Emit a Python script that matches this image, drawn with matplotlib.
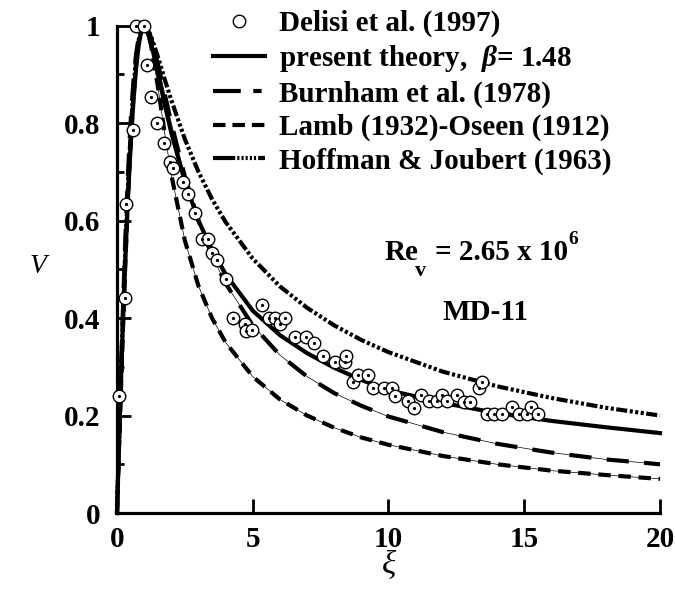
import matplotlib
matplotlib.use("Agg")
import matplotlib.pyplot as plt
from matplotlib.lines import Line2D

plt.rcParams["font.family"] = ["Liberation Serif", "DejaVu Serif"]
plt.rcParams["font.weight"] = "bold"
plt.rcParams["mathtext.fontset"] = "custom"
plt.rcParams["mathtext.rm"] = "Liberation Serif:bold"
plt.rcParams["mathtext.it"] = "Liberation Serif:italic:bold"
plt.rcParams["lines.scale_dashes"] = False

# measured tangential velocity (Delisi et al. 1997, MD-11)
DELISI_XI = [0.07, 0.31, 0.33, 0.58, 0.70, 0.99, 1.10, 1.25, 1.47, 1.73, 1.94, 2.07,
             2.42, 2.63, 2.87, 3.12, 3.36, 3.49, 3.67, 4.01, 4.29, 4.71, 4.74, 4.98,
             5.33, 5.59, 5.82, 6.00, 6.20, 6.56, 6.96, 7.27, 7.58, 8.03, 8.41, 8.43,
             8.68, 8.86, 9.26, 9.42, 9.83, 10.12, 10.25, 10.71, 10.94, 11.21, 11.48,
             11.80, 11.99, 12.15, 12.51, 12.79, 13.00, 13.33, 13.46, 13.62, 13.89,
             14.17, 14.54, 14.82, 15.09, 15.24, 15.52]
DELISI_V = [0.241, 0.442, 0.634, 0.786, 1.000, 1.000, 0.918, 0.854, 0.800, 0.760, 0.721,
            0.707, 0.680, 0.654, 0.615, 0.562, 0.562, 0.534, 0.520, 0.481, 0.401, 0.388,
            0.374, 0.375, 0.427, 0.401, 0.401, 0.388, 0.401, 0.362, 0.362, 0.348, 0.322,
            0.310, 0.310, 0.323, 0.269, 0.283, 0.283, 0.256, 0.256, 0.256, 0.241, 0.229,
            0.216, 0.242, 0.229, 0.229, 0.243, 0.229, 0.242, 0.228, 0.228, 0.257, 0.269,
            0.203, 0.203, 0.203, 0.217, 0.203, 0.203, 0.217, 0.203]

# model profiles on a common xi grid
XI_GRID = [0.0, 0.1, 0.2, 0.3, 0.4, 0.5, 0.6, 0.7, 0.8, 0.9, 1.0, 1.1, 1.25, 1.5, 1.75,
           2.0, 2.5, 3.0, 3.5, 4.0, 5.0, 6.0, 7.0, 8.0, 9.0, 10.0, 12.0, 14.0, 16.0,
           18.0, 20.0]
PRESENT_V = [0.0, 0.19, 0.36, 0.51, 0.64, 0.75, 0.84, 0.91, 0.96, 0.99, 1.0, 0.99,
             0.965, 0.905, 0.84, 0.78, 0.68, 0.60, 0.54, 0.49, 0.415, 0.365, 0.328,
             0.298, 0.273, 0.252, 0.226, 0.205, 0.189, 0.176, 0.164]
BURNHAM_V = [0.0, 0.198, 0.385, 0.55, 0.69, 0.80, 0.882, 0.94, 0.976, 0.994, 1.0, 0.995,
             0.976, 0.923, 0.862, 0.80, 0.69, 0.60, 0.528, 0.471, 0.385, 0.324, 0.28,
             0.246, 0.22, 0.198, 0.166, 0.142, 0.124, 0.11, 0.10]
LAMB_V = [0.0, 0.175, 0.344, 0.50, 0.64, 0.754, 0.848, 0.92, 0.967, 0.993, 1.0, 0.993,
          0.961, 0.877, 0.782, 0.694, 0.559, 0.466, 0.40, 0.35, 0.28, 0.233, 0.20,
          0.175, 0.155, 0.14, 0.117, 0.10, 0.087, 0.078, 0.07]
HOFFMAN_V = [0.0, 0.19, 0.37, 0.53, 0.665, 0.775, 0.865, 0.93, 0.97, 0.993, 1.0, 0.996,
             0.979, 0.937, 0.891, 0.847, 0.767, 0.700, 0.644, 0.597, 0.522, 0.465,
             0.421, 0.385, 0.355, 0.33, 0.29, 0.26, 0.236, 0.216, 0.20]

X_TICKS = [0, 5, 10, 15, 20]
Y_TICKS = [0.0, 0.2, 0.4, 0.6, 0.8, 1.0]
Y_TICK_LABELS = ["0", "0.2", "0.4", "0.6", "0.8", "1"]
Y_MINOR_TICKS = [0.1, 0.3, 0.5, 0.7, 0.9]

BURNHAM_DASH = (0, (16, 11))
LAMB_DASH = (0, (9, 5.5))
HOFFMAN_DASH = (0, (8, 1.8, 2.2, 1.8, 2.2, 1.8, 2.2, 1.8))

fig = plt.figure(figsize=(6.75, 5.92), dpi=100)
ax = fig.add_axes([0.1733, 0.1334, 0.8044, 0.8235])

curveWidth = 3.0
ax.plot(XI_GRID, PRESENT_V, color="black", linewidth=curveWidth, clip_on=False,
        solid_joinstyle="round", zorder=3)
for values, dashStyle in ((BURNHAM_V, BURNHAM_DASH), (LAMB_V, LAMB_DASH)):
    ax.plot(XI_GRID, values, color="black", linewidth=0.5, clip_on=False, zorder=2)
    ax.plot(XI_GRID, values, color="black", linewidth=curveWidth, linestyle=dashStyle,
            dash_capstyle="butt", clip_on=False, zorder=2)
ax.plot(XI_GRID, HOFFMAN_V, color="black", linewidth=curveWidth, linestyle=HOFFMAN_DASH,
        dash_capstyle="butt", clip_on=False, zorder=2)

ax.plot(DELISI_XI, DELISI_V, linestyle="none", marker="o", markersize=9,
        markerfacecolor="white", markeredgecolor="black", markeredgewidth=1.0,
        clip_on=False, zorder=4)
ax.plot(DELISI_XI, DELISI_V, linestyle="none", marker="o", markersize=1.3,
        color="black", clip_on=False, zorder=5)

ax.set_xlim(0, 20)
ax.set_ylim(0, 1)
for side in ("top", "right"):
    ax.spines[side].set_visible(False)
for side in ("left", "bottom"):
    ax.spines[side].set_linewidth(2.3)
ax.set_xticks(X_TICKS)
ax.set_yticks(Y_TICKS)
ax.set_yticklabels(Y_TICK_LABELS)
ax.set_yticks(Y_MINOR_TICKS, minor=True)
ax.tick_params(which="major", direction="in", length=10, width=2.0, labelsize=21, pad=9)
ax.tick_params(which="minor", direction="in", length=5, width=2.0)
ax.tick_params(axis="y", which="major", pad=12)

fig.text(0.057, 0.55, "V", fontsize=20, fontstyle="italic", fontweight="normal",
         ha="center", va="center")
fig.text(0.576, 0.045, "ξ", fontsize=24, fontstyle="italic", fontweight="normal",
         ha="center", va="center")

ax.text(9.87, 0.519, "Re", fontsize=21, ha="left", va="baseline")
ax.text(10.98, 0.486, "v", fontsize=16, ha="left", va="baseline")
ax.text(11.71, 0.519, "= 2.65 x 10", fontsize=21, ha="left", va="baseline")
ax.text(16.62, 0.552, "6", fontsize=14, ha="left", va="baseline")
ax.text(13.59, 0.396, "MD-11", fontsize=21, ha="center", va="baseline")

legendHandles = [
    Line2D([], [], linestyle="none", marker="o", markersize=9, markerfacecolor="white",
           markeredgecolor="black", markeredgewidth=1.0),
    Line2D([], [], color="black", linewidth=curveWidth),
    Line2D([], [], color="black", linewidth=curveWidth, linestyle=(0, (20, 9, 6, 30)),
           dash_capstyle="butt"),
    Line2D([], [], color="black", linewidth=curveWidth, linestyle=(0, (9, 5)),
           dash_capstyle="butt"),
    Line2D([], [], color="black", linewidth=curveWidth,
           linestyle=(0, (16, 1.5, 1.5, 1.5, 1.5, 1.5, 1.5, 1.5, 1.5, 1.5, 1.5, 1.5)),
           dash_capstyle="butt"),
]
legendLabels = [
    "Delisi et al. (1997)",
    "present theory,  $\\beta$= 1.48",
    "Burnham et al. (1978)",
    "Lamb (1932)-Oseen (1912)",
    "Hoffman & Joubert (1963)",
]
ax.legend(legendHandles, legendLabels, loc="upper left", bbox_to_anchor=(0.1768, 1.032),
          frameon=False, fontsize=21, handlelength=1.78, handletextpad=0.5,
          labelspacing=0.21, borderpad=0, borderaxespad=0, numpoints=1)

fig.savefig("out.png", dpi=100)
